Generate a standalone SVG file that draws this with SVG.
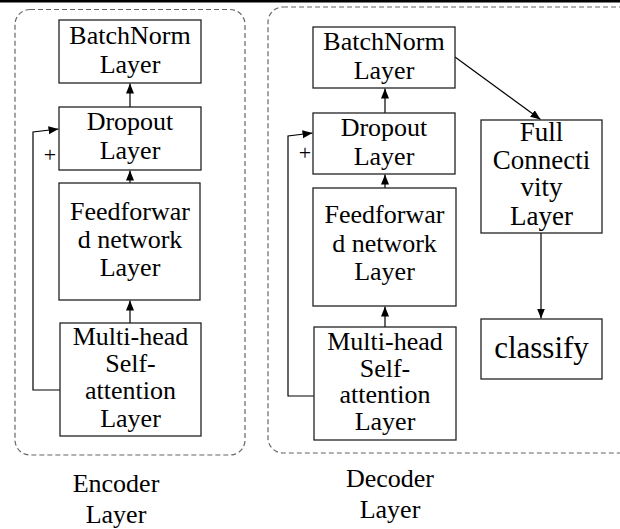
<svg xmlns="http://www.w3.org/2000/svg" width="620" height="529" viewBox="0 0 620 529">
<style>
  .box{fill:#fff;stroke:#222;stroke-width:1.3}
  .grp{fill:none;stroke:#666;stroke-width:1.2;stroke-dasharray:5 3}
  text{font-family:'Liberation Serif','Times New Roman','DejaVu Serif',serif;font-size:26px;fill:#000;text-anchor:middle}
  .c{fill:none;stroke:#000;stroke-width:1.2}
</style>
<defs>
  <marker id="ah" markerUnits="userSpaceOnUse" markerWidth="11" markerHeight="9" refX="10" refY="4" orient="auto">
    <path d="M0,0 L10,4 L0,8 z" fill="#000"/>
  </marker>
</defs>
<rect x="0" y="0" width="620" height="2.5" fill="#000"/>
<g id="encoder-group">
  <rect class="grp" x="15" y="9.5" width="230" height="445.5" rx="15"/>
</g>
<g id="decoder-group">
  <rect class="grp" x="268" y="7" width="380" height="446" rx="15"/>
</g>
<g id="connectors">
  <line class="c" x1="130" y1="107" x2="130" y2="83.5" marker-end="url(#ah)"/>
  <line class="c" x1="130" y1="183" x2="130" y2="170.5" marker-end="url(#ah)"/>
  <line class="c" x1="130" y1="323" x2="130" y2="300.5" marker-end="url(#ah)"/>
  <polyline class="c" points="60,390 33,390 33,132 58.5,129" marker-end="url(#ah)"/>
  <line class="c" x1="385" y1="113" x2="385" y2="88.5" marker-end="url(#ah)"/>
  <line class="c" x1="385" y1="188" x2="385" y2="174.5" marker-end="url(#ah)"/>
  <line class="c" x1="385" y1="327" x2="385" y2="306.5" marker-end="url(#ah)"/>
  <polyline class="c" points="314,396 288,396 288,136 312.5,133" marker-end="url(#ah)"/>
  <line class="c" x1="455" y1="57" x2="540.5" y2="119.5" marker-end="url(#ah)"/>
  <line class="c" x1="541" y1="233" x2="541" y2="318.5" marker-end="url(#ah)"/>
</g>
<g id="enc-batchnorm">
  <rect class="box" x="59" y="20" width="142" height="63"/>
  <text><tspan x="130" y="44">BatchNorm</tspan><tspan x="130" y="73">Layer</tspan></text>
</g>
<g id="enc-dropout">
  <rect class="box" x="59" y="107" width="142" height="63"/>
  <text><tspan x="130" y="130">Dropout</tspan><tspan x="130" y="159">Layer</tspan></text>
  <text x="50" y="162" style="font-size:22px">+</text>
</g>
<g id="enc-feedforward">
  <rect class="box" x="59" y="183" width="141" height="117"/>
  <text><tspan x="130" y="220">Feedforwar</tspan><tspan x="130" y="248">d network</tspan><tspan x="130" y="276">Layer</tspan></text>
</g>
<g id="enc-multihead">
  <rect class="box" x="60" y="323" width="141" height="113"/>
  <text><tspan x="130.5" y="345">Multi-head</tspan><tspan x="130.5" y="372">Self-</tspan><tspan x="130.5" y="399">attention</tspan><tspan x="130.5" y="427">Layer</tspan></text>
</g>
<g id="dec-batchnorm">
  <rect class="box" x="313" y="27" width="142" height="61"/>
  <text><tspan x="384" y="50">BatchNorm</tspan><tspan x="384" y="79">Layer</tspan></text>
</g>
<g id="dec-dropout">
  <rect class="box" x="313" y="113" width="142" height="61"/>
  <text><tspan x="384" y="136">Dropout</tspan><tspan x="384" y="165">Layer</tspan></text>
  <text x="305" y="160" style="font-size:22px">+</text>
</g>
<g id="dec-feedforward">
  <rect class="box" x="313" y="188" width="143" height="118"/>
  <text><tspan x="384.5" y="223">Feedforwar</tspan><tspan x="384.5" y="252">d network</tspan><tspan x="384.5" y="280">Layer</tspan></text>
</g>
<g id="dec-multihead">
  <rect class="box" x="314" y="327" width="142" height="113"/>
  <text><tspan x="385" y="350">Multi-head</tspan><tspan x="385" y="377">Self-</tspan><tspan x="385" y="403">attention</tspan><tspan x="385" y="430">Layer</tspan></text>
</g>
<g id="full-connectivity">
  <rect class="box" x="481" y="120" width="121" height="113"/>
  <text style="font-size:27px"><tspan x="541.5" y="141">Full</tspan><tspan x="541.5" y="169">Connecti</tspan><tspan x="541.5" y="196">vity</tspan><tspan x="541.5" y="225">Layer</tspan></text>
</g>
<g id="classify">
  <rect class="box" x="481" y="319" width="121" height="60"/>
  <text x="541.5" y="358" style="font-size:31px">classify</text>
</g>
<g id="labels">
  <text><tspan x="116" y="492">Encoder</tspan><tspan x="116" y="523">Layer</tspan></text>
  <text><tspan x="390" y="487">Decoder</tspan><tspan x="390" y="518">Layer</tspan></text>
</g>
</svg>
